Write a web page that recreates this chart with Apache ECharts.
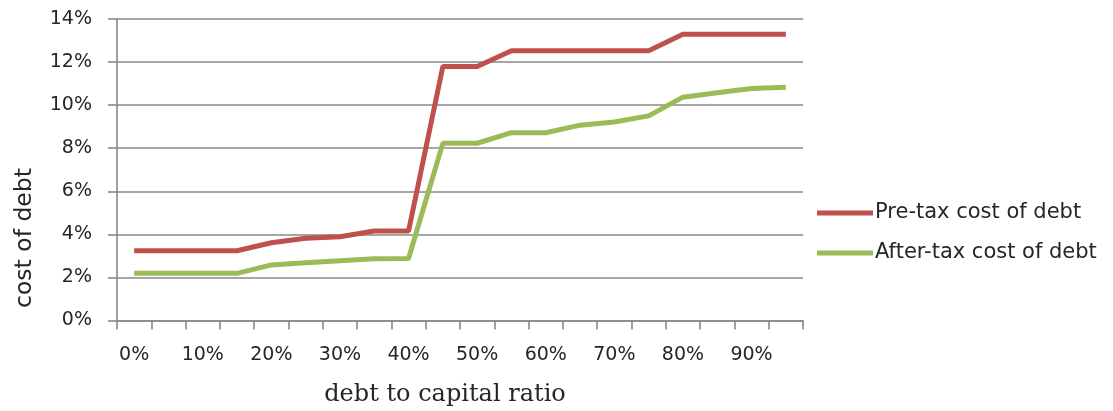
<!DOCTYPE html>
<html>
<head>
<meta charset="utf-8">
<script src="https://cdn.jsdelivr.net/npm/echarts@6/dist/echarts.min.js"></script>
<style>
  html, body { margin: 0; padding: 0; background: #ffffff; }
  #chart { width: 1113px; height: 411px; }
</style>
</head>
<body>
<div id="chart"></div>
<script>
// Debt-to-capital ratio categories (every 5%)
const categories = ['0%', '5%', '10%', '15%', '20%', '25%', '30%', '35%', '40%', '45%',
                    '50%', '55%', '60%', '65%', '70%', '75%', '80%', '85%', '90%', '95%'];
// Cost of debt, in percent
const preTax   = [3.24, 3.24, 3.24, 3.24, 3.61, 3.82, 3.89, 4.16, 4.16, 11.79,
                  11.79, 12.53, 12.53, 12.53, 12.53, 12.53, 13.29, 13.29, 13.29, 13.29];
const afterTax = [2.19, 2.19, 2.19, 2.19, 2.58, 2.68, 2.78, 2.87, 2.88, 8.23,
                  8.23, 8.72, 8.72, 9.07, 9.22, 9.50, 10.37, 10.58, 10.77, 10.83];
const seriesNames = ['Pre-tax cost of debt', 'After-tax cost of debt'];
const xTitle = 'debt to capital ratio';
const yTitle = 'cost of debt';

const gridColor = '#888888';
const textColor = '#262626';
const sansFont = 'DejaVu Sans';

const chart = echarts.init(document.getElementById('chart'), null, { renderer: 'canvas' });

chart.setOption({
  backgroundColor: '#ffffff',
  animation: false,
  grid: { left: 117, right: 310, top: 19, bottom: 90.5, containLabel: false },
  xAxis: {
    type: 'category',
    data: categories,
    boundaryGap: true,
    axisLine: { show: true, lineStyle: { color: gridColor, width: 1.6 } },
    axisTick: { show: true, interval: 0, length: 9, lineStyle: { color: gridColor, width: 1.6 } },
    axisLabel: { interval: 1, margin: 25, color: textColor, fontFamily: sansFont, fontSize: 19 },
    splitLine: { show: false }
  },
  yAxis: {
    type: 'value',
    min: 0,
    max: 14,
    interval: 2,
    axisLine: { show: true, lineStyle: { color: gridColor, width: 1.6 } },
    axisTick: { show: true, length: 9, lineStyle: { color: gridColor, width: 1.6 } },
    axisLabel: { formatter: '{value}%', margin: 25, color: textColor, fontFamily: sansFont, fontSize: 19 },
    splitLine: { show: true, lineStyle: { color: gridColor, width: 1.6 } }
  },
  legend: {
    orient: 'vertical',
    left: 812,
    top: 196,
    itemGap: 16,
    itemWidth: 56,
    itemHeight: 5,
    icon: 'rect',
    data: seriesNames,
    textStyle: { color: textColor, fontFamily: sansFont, fontSize: 21, lineHeight: 24, padding: [0, 0, 0, -3] }
  },
  graphic: [
    {
      type: 'text',
      x: 25,
      y: 238,
      rotation: Math.PI / 2,
      style: {
        text: yTitle,
        fill: textColor,
        font: '23.5px "DejaVu Sans"',
        align: 'center',
        verticalAlign: 'middle'
      }
    },
    {
      type: 'text',
      x: 445,
      y: 395,
      style: {
        text: xTitle,
        fill: textColor,
        font: '24px "DejaVu Serif"',
        align: 'center',
        verticalAlign: 'middle'
      }
    }
  ],
  series: [
    {
      name: seriesNames[0],
      type: 'line',
      data: preTax,
      showSymbol: false,
      symbol: 'none',
      color: '#c0504d',
      lineStyle: { color: '#c0504d', width: 5 }
    },
    {
      name: seriesNames[1],
      type: 'line',
      data: afterTax,
      showSymbol: false,
      symbol: 'none',
      color: '#9bbb59',
      lineStyle: { color: '#9bbb59', width: 5 }
    }
  ]
});
</script>
</body>
</html>
